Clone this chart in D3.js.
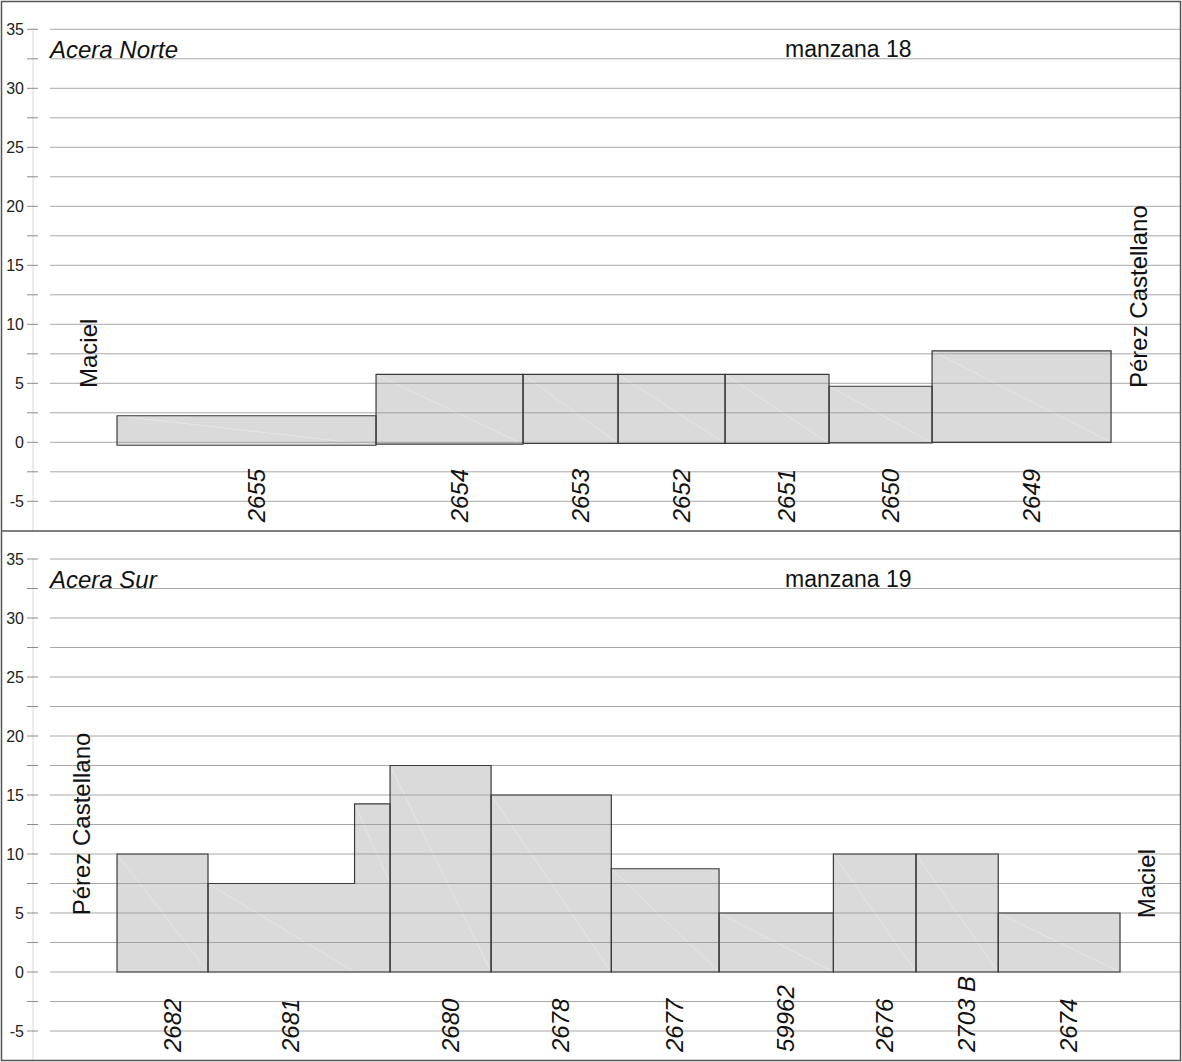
<!DOCTYPE html>
<html>
<head>
<meta charset="utf-8">
<script src="https://cdn.jsdelivr.net/npm/d3@7"></script>
<style>
  html, body { margin: 0; padding: 0; background: #fff; }
  svg { display: block; font-family: "Liberation Sans", Arial, sans-serif; }
</style>
</head>
<body>
<div id="chart"></div>
<script>
// ---------- data ----------
const yTicks = [-5, 0, 5, 10, 15, 20, 25, 30, 35];
const yGrid = [-5, -2.5, 0, 2.5, 5, 7.5, 10, 12.5, 15, 17.5, 20, 22.5, 25, 27.5, 30, 32.5, 35];

const northTitle = "Acera Norte";
const northBlock = "manzana 18";
const northLeftStreet = "Maciel";
const northRightStreet = "Pérez Castellano";
const northStart = 5.68;
const northLots = ["2655", "2654", "2653", "2652", "2651", "2650", "2649"];
const northWidths = [21.95, 12.46, 8.05, 9.07, 8.81, 8.73, 15.17];
const northHeights = [2.25, 5.75, 5.75, 5.75, 5.75, 4.75, 7.75];
const northBases = [-0.25, -0.15, -0.1, -0.1, -0.1, -0.05, 0];
const northStepWidths = [0, 0, 0, 0, 0, 0, 0];
const northStepHeights = [0, 0, 0, 0, 0, 0, 0];

const southTitle = "Acera Sur";
const southBlock = "manzana 19";
const southLeftStreet = "Pérez Castellano";
const southRightStreet = "Maciel";
const southStart = 5.68;
const southLots = ["2682", "2681", "2680", "2678", "2677", "59962", "2676", "2703 B", "2674"];
const southWidths = [7.71, 12.42, 8.56, 10.19, 9.13, 9.69, 7.0, 6.97, 10.32];
const southHeights = [10, 7.5, 17.5, 15, 8.75, 5, 10, 10, 5];
const southBases = [0, 0, 0, 0, 0, 0, 0, 0, 0];
const southStepWidths = [0, 3.01, 0, 0, 0, 0, 0, 0, 0];
const southStepHeights = [0, 14.25, 0, 0, 0, 0, 0, 0, 0];

// ---------- layout ----------
const W = 1182, H = 1062;
const svg = d3.select("#chart").append("svg").attr("width", W).attr("height", H);

const xScale = d3.scaleLinear().domain([0, 96]).range([50, 1182.8]);

const panels = [
  { top: 1.5, bottom: 531, yRange: [501.3, 29.3],
    title: northTitle, block: northBlock, leftStreet: northLeftStreet, rightStreet: northRightStreet,
    leftX: 3.98, rightX: 92.97, leftEnd: 4.6, rightEnd: 4.6,
    start: northStart, lots: northLots, widths: northWidths, heights: northHeights, bases: northBases,
    stepW: northStepWidths, stepH: northStepHeights },
  { top: 531, bottom: 1060.5, yRange: [1031, 559],
    title: southTitle, block: southBlock, leftStreet: southLeftStreet, rightStreet: southRightStreet,
    leftX: 3.39, rightX: 93.64, leftEnd: 4.8, rightEnd: 4.55,
    start: southStart, lots: southLots, widths: southWidths, heights: southHeights, bases: southBases,
    stepW: southStepWidths, stepH: southStepHeights }
];

panels.forEach(p => {
  const y = d3.scaleLinear().domain([-5, 35]).range(p.yRange);
  const g = svg.append("g");

  // faint vertical axis line
  g.append("line")
    .attr("x1", 33).attr("x2", 33)
    .attr("y1", y(35)).attr("y2", p.bottom)
    .attr("stroke", "#ececec").attr("stroke-width", 2);

  // lots
  let cursor = p.start;
  const lotData = p.lots.map((name, i) => {
    const x0 = cursor;
    const x1 = x0 + p.widths[i];
    const x2 = x1 + p.stepW[i];
    cursor = x2;
    return { name, x0, x1, x2, h: p.heights[i], base: p.bases[i], sh: p.stepH[i] };
  });

  const outline = d => {
    const pts = [[d.x0, d.base], [d.x0, d.h], [d.x1, d.h]];
    if (d.x2 > d.x1) {
      pts.push([d.x1, d.sh], [d.x2, d.sh], [d.x2, d.base]);
    } else {
      pts.push([d.x1, d.base]);
    }
    return d3.line().x(q => xScale(q[0])).y(q => y(q[1]))(pts) + "Z";
  };

  const bars = g.append("g");
  lotData.forEach(d => {
    bars.append("path")
      .attr("d", outline(d))
      .attr("fill", "#dadada")
      .attr("stroke", "none");
    // faint diagonal artefact
    bars.append("line")
      .attr("x1", xScale(d.x0)).attr("y1", y(d.h))
      .attr("x2", xScale(d.x1)).attr("y2", y(d.base))
      .attr("stroke", "#e6e6e6").attr("stroke-width", 1);
    if (d.x2 > d.x1) {
      bars.append("line")
        .attr("x1", xScale(d.x1)).attr("y1", y(d.sh))
        .attr("x2", xScale(d.x2)).attr("y2", y(d.h))
        .attr("stroke", "#e6e6e6").attr("stroke-width", 1);
    }
  });

  // grid lines + ticks
  g.append("g").selectAll("line").data(yGrid).join("line")
    .attr("x1", 50).attr("x2", 1180.5)
    .attr("y1", d => y(d)).attr("y2", d => y(d))
    .attr("stroke", "#999").attr("stroke-opacity", 0.85).attr("stroke-width", 1);
  g.append("g").selectAll("line").data(yGrid).join("line")
    .attr("x1", 27).attr("x2", 38)
    .attr("y1", d => y(d)).attr("y2", d => y(d))
    .attr("stroke", "#8a8a8a").attr("stroke-width", 1);
  g.append("g").selectAll("text").data(yTicks).join("text")
    .attr("x", 24).attr("y", d => y(d))
    .attr("dy", "0.36em")
    .attr("text-anchor", "end")
    .attr("font-size", 16).attr("fill", "#222")
    .text(d => d);

  // bar outlines on top
  g.append("g").selectAll("path").data(lotData).join("path")
    .attr("d", outline)
    .attr("fill", "none")
    .attr("stroke", "#3a3a3a").attr("stroke-width", 1.2);

  // lot labels (read bottom-to-top, starting below the zero line)
  g.append("g").selectAll("text").data(lotData).join("text")
    .attr("transform", d => {
      const cx = xScale((d.x0 + d.x1) / 2) + 18;
      const cy = y(0) + 80;
      return `translate(${cx},${cy}) rotate(-90)`;
    })
    .attr("text-anchor", "start")
    .attr("font-size", 24).attr("font-style", "italic").attr("fill", "#111")
    .text(d => d.name);

  // titles
  g.append("text")
    .attr("x", 50).attr("y", y(35) + 29)
    .attr("font-size", 24).attr("font-style", "italic").attr("fill", "#111")
    .text(p.title);
  g.append("text")
    .attr("x", 785).attr("y", y(35) + 27.5)
    .attr("font-size", 23).attr("fill", "#111")
    .text(p.block);

  // street names
  g.append("text")
    .attr("transform", `translate(${xScale(p.leftX)},${y(p.leftEnd)}) rotate(-90)`)
    .attr("font-size", 24).attr("fill", "#111")
    .text(p.leftStreet);
  g.append("text")
    .attr("transform", `translate(${xScale(p.rightX)},${y(p.rightEnd)}) rotate(-90)`)
    .attr("font-size", 24).attr("fill", "#111")
    .text(p.rightStreet);
});

// frame and divider
svg.append("rect")
  .attr("x", 1.5).attr("y", 1.5).attr("width", 1179).attr("height", 1059)
  .attr("fill", "none").attr("stroke", "#555").attr("stroke-width", 1.5);
svg.append("line")
  .attr("x1", 1.5).attr("x2", 1180.5).attr("y1", 531).attr("y2", 531)
  .attr("stroke", "#555").attr("stroke-width", 1.5);
</script>
</body>
</html>
